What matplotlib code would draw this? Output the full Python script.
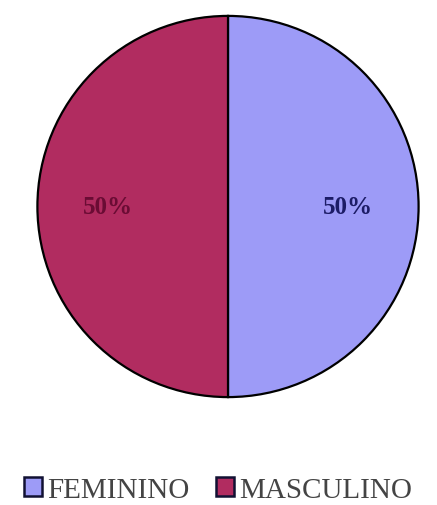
import matplotlib.pyplot as plt
from matplotlib.patches import Patch

labels = ['FEMININO', 'MASCULINO']
values = [50, 50]
colors = ['#9d9bf7', '#b12c60']
pct_colors = ['#1c1c66', '#6a0c34']

fig = plt.figure(figsize=(4.37, 5.06), dpi=100)
ax = fig.add_axes([35 / 437, 106 / 506, 386 / 437, 385 / 506])

wedges, texts, autotexts = ax.pie(
    values, colors=colors, startangle=90, counterclock=False,
    autopct='%1.0f%%', pctdistance=0.63,
    wedgeprops=dict(edgecolor='black', linewidth=1.6),
    textprops=dict(family='Liberation Serif', fontsize=18, fontweight='bold'))
for t, c in zip(autotexts, pct_colors):
    t.set_color(c)
ax.set_xlim(-1.01, 1.01)
ax.set_ylim(-1.01, 1.01)
ax.set_aspect('equal')

handles = [Patch(facecolor=c, edgecolor='#111133', linewidth=1.8) for c in colors]
fig.legend(handles, labels, loc='center', bbox_to_anchor=(0.5, 1 - 491 / 506),
           ncol=2, frameon=False, prop=dict(family='Liberation Serif', size=21),
           labelcolor='#444444', handlelength=0.6, handleheight=0.6,
           handletextpad=0.2, columnspacing=0.9)

fig.savefig('out.png', dpi=100)
